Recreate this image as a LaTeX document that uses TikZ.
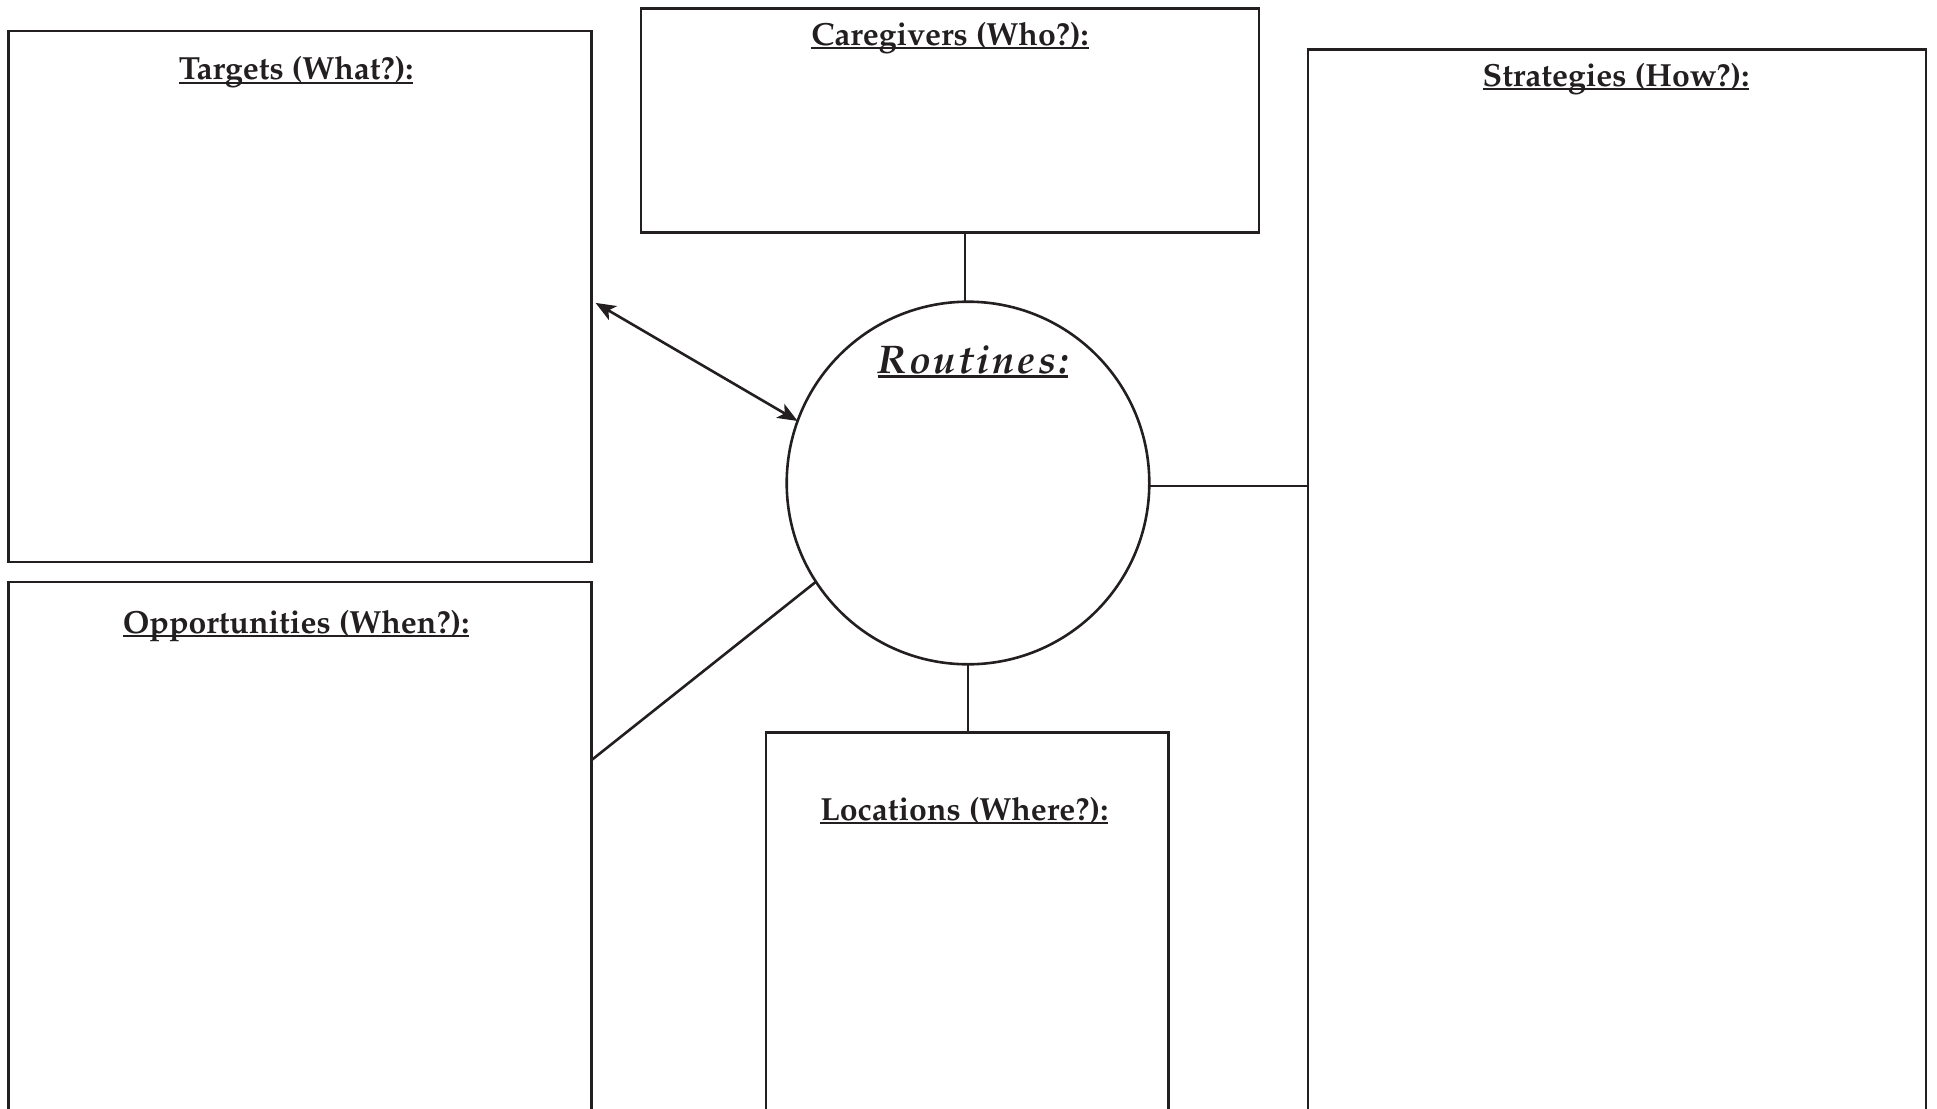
\documentclass[tikz,border=0pt]{standalone}
\usepackage[T1]{fontenc}
\renewcommand{\rmdefault}{ppl}
\usetikzlibrary{arrows.meta,calc}
\definecolor{ink}{RGB}{35,31,32}
\newcommand\myul[3][1.8pt]{\setbox0=\hbox{#3}\rlap{\rule[-#1]{\wd0}{#2}}\box0}
\newcommand\lsp{\kern1.3pt}
\begin{document}
\begin{tikzpicture}[x=0.5pt,y=-0.5pt,
  box/.style={draw=ink,line width=1.3pt,rectangle,anchor=north west,inner sep=0pt,outer sep=0pt},
  title/.style={anchor=base,inner sep=0pt,font=\fontsize{16}{19}\selectfont\bfseries,text=ink},
  link/.style={draw=ink,line width=1.3pt},
  mytip/.tip={Stealth[length=10pt,width=8pt,inset=2.5pt]}]
\useasboundingbox (0,0) rectangle (1937,1108);
\clip (0,0) rectangle (1937,1108);
% boxes
\node[box,minimum width=291.5pt,minimum height=265.5pt] (tgt) at (8.6,30.9) {};
\node[box,minimum width=309pt,minimum height=111.8pt] (cg) at (641,8.6) {};
\node[box,minimum width=309pt,minimum height=560pt] (str) at (1308,49.4) {};
\node[box,minimum width=291.5pt,minimum height=300pt] (opp) at (8.6,582) {};
\node[box,minimum width=201.3pt,minimum height=230pt] (loc) at (766,732.5) {};
\node[circle,draw=ink,line width=1.3pt,minimum size=181.3pt,inner sep=0pt,outer sep=0pt] (rt) at (968,483) {};
% titles
\node[title] (tgtT) at ($(tgt.north)+(-4,49)$) {\myul{0.9pt}{Targets (What?):}};
\node[title] (cgT) at ($(cg.north)+(0,37)$) {\myul{0.9pt}{Caregivers (Who?):}};
\node[title] (strT) at ($(str.north)+(-1,37)$) {\myul{0.9pt}{Strategies (How?):}};
\node[title] (oppT) at ($(opp.north)+(-4,51.6)$) {\myul{0.9pt}{Opportunities (When?):}};
\node[title] (locT) at ($(loc.north)+(-3,87.5)$) {\myul{0.9pt}{Locations (Where?):}};
\node[anchor=base,inner sep=0pt,text=ink,font=\fontsize{20}{24}\selectfont\bfseries\itshape] (rtT) at ($(rt.center)+(5,-110)$)
  {\myul[2.3pt]{1.1pt}{R\lsp o\lsp u\lsp t\lsp i\lsp n\lsp e\lsp s\lsp :}};
% connectors
\coordinate (tgtA) at ($(tgt.north east)+(4,272)$);
\coordinate (oppA) at ($(opp.north east)+(0,178)$);
\draw[link,mytip-mytip] (tgtA) -- (rt.160);
\draw[link] (rt.91.8) -- (rt.91.8 |- cg.south);
\draw[link] (rt.south) -- (rt.south |- loc.north);
\draw[link] (rt.-1.5) -- (rt.-1.5 -| str.west);
\draw[link] (rt.213) -- (oppA);
\end{tikzpicture}
\end{document}
